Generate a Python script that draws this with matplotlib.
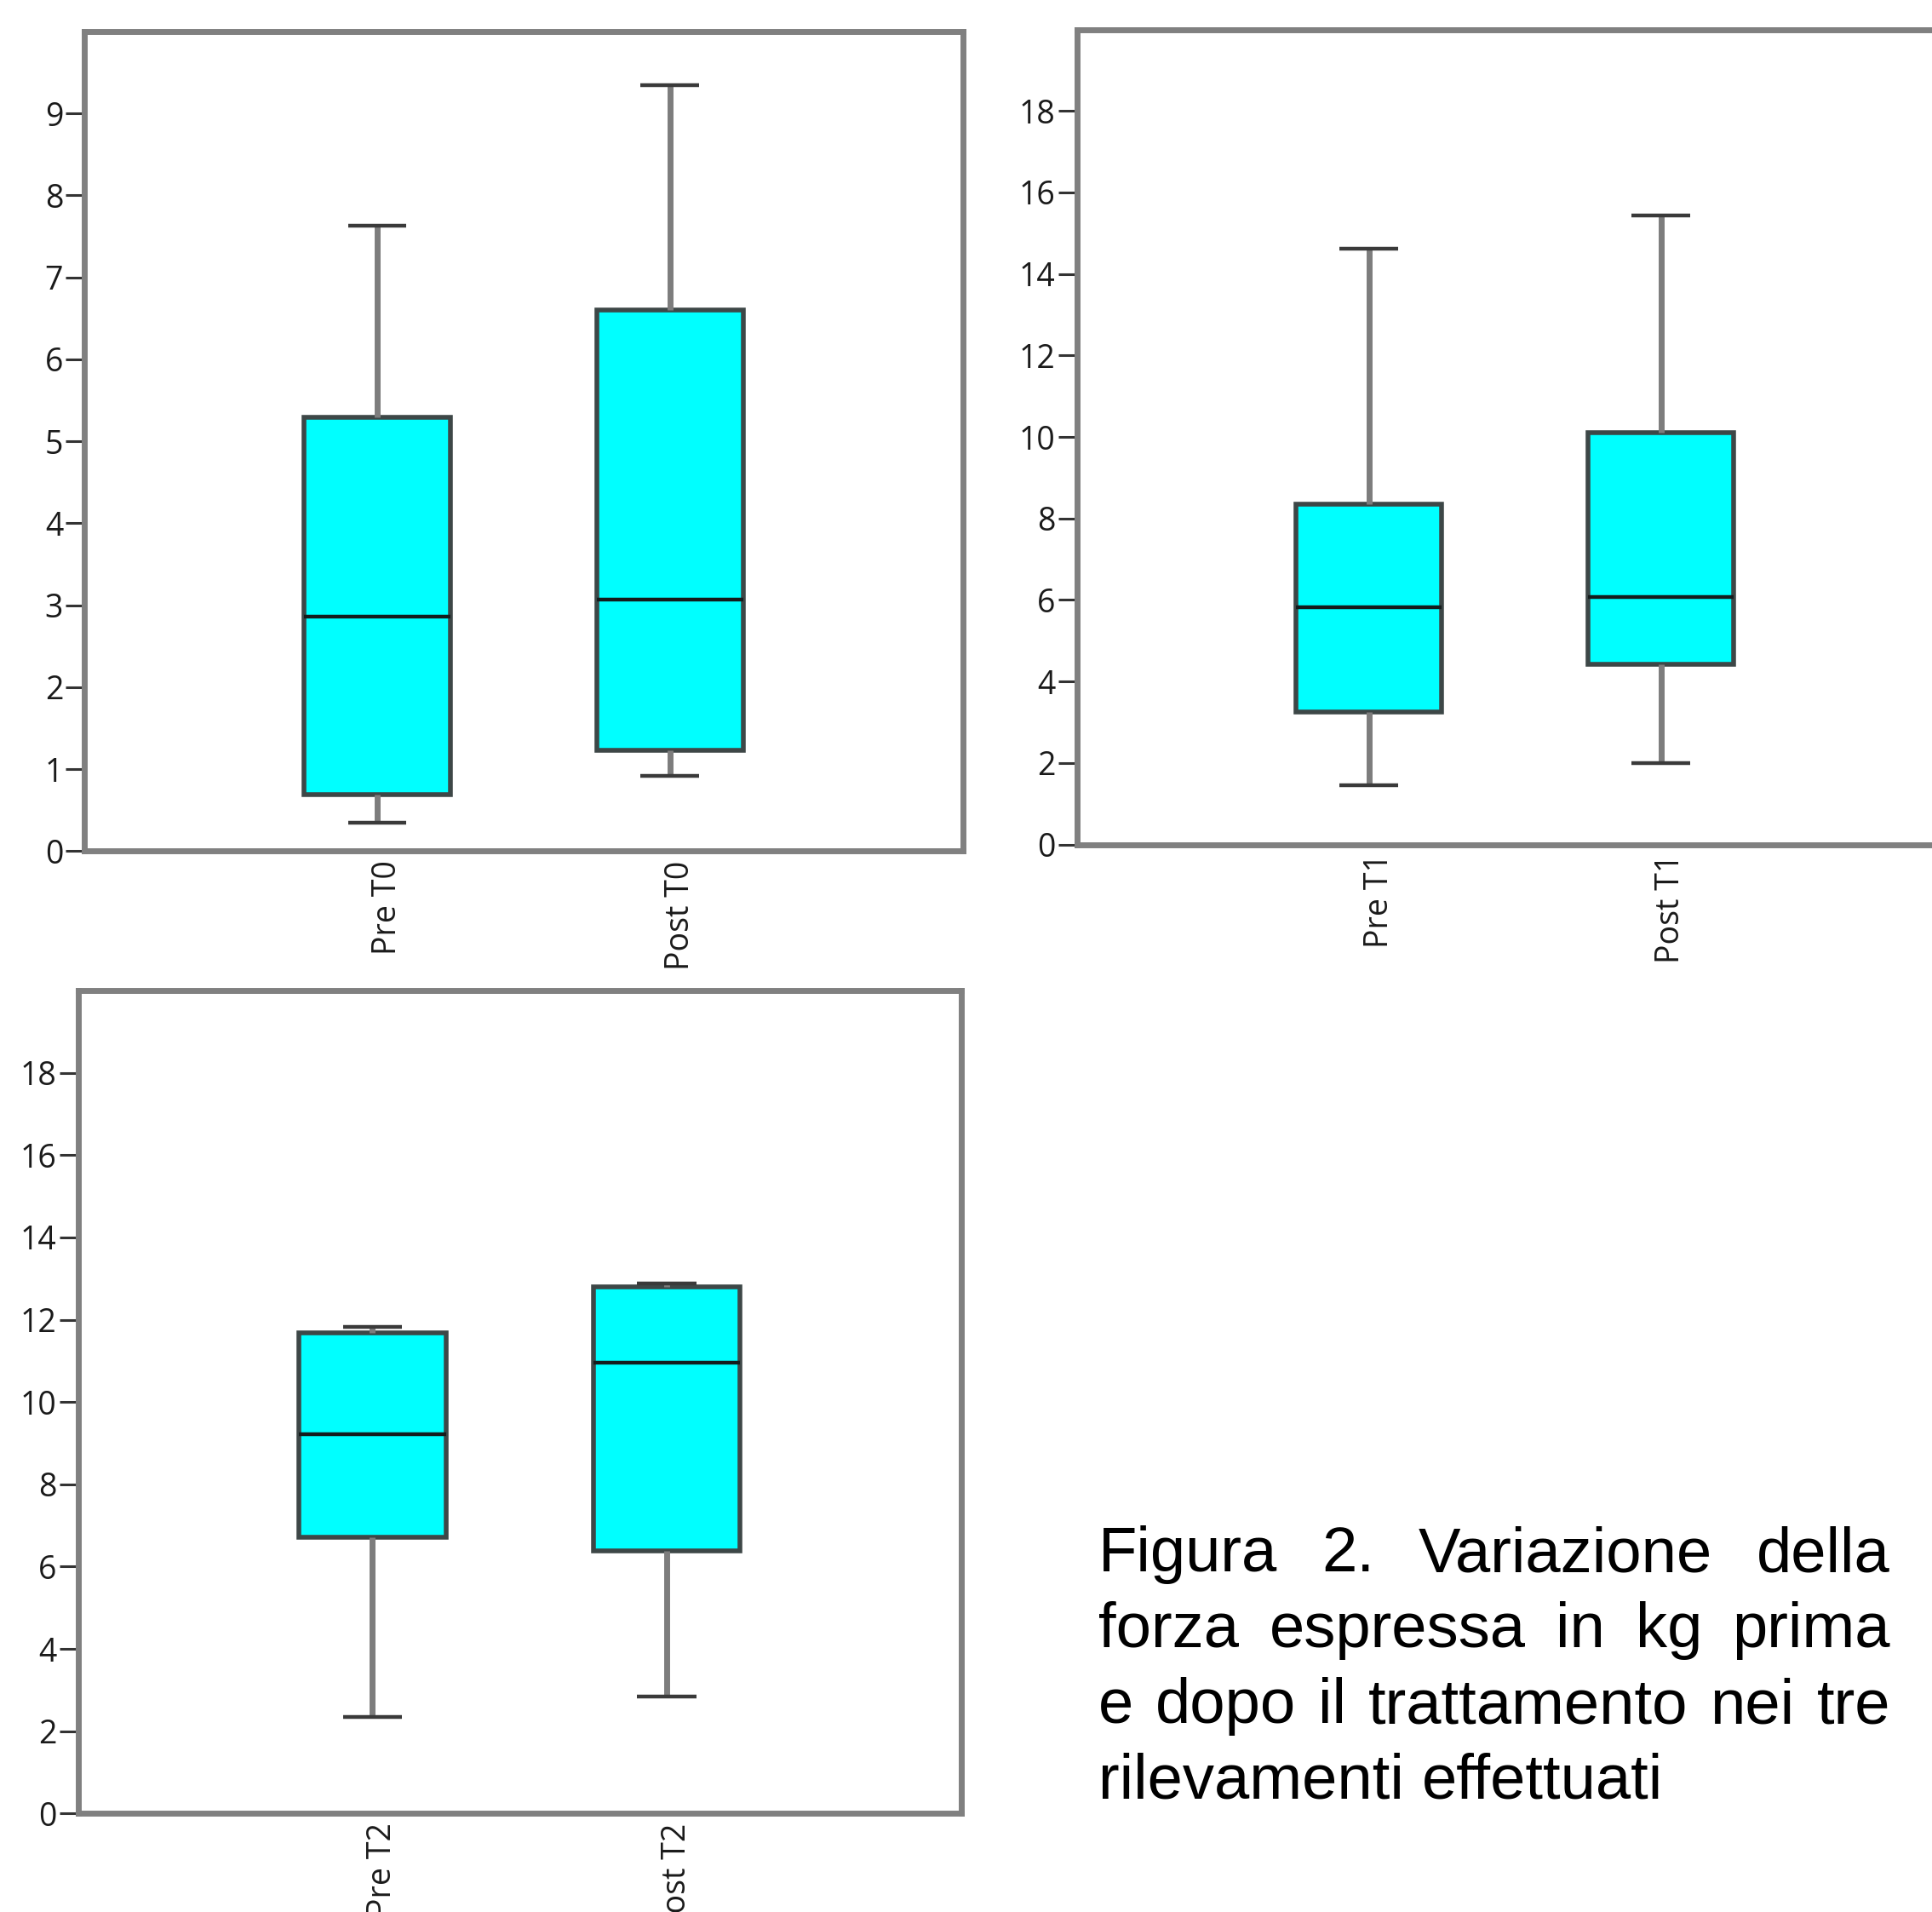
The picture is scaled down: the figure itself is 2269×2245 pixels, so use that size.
import matplotlib
matplotlib.use("Agg")
import matplotlib.pyplot as plt
from matplotlib.transforms import ScaledTranslation

# ---------------- data ----------------
cats_T0 = ["Pre T0", "Post T0"]
T0_whislo = [0.35, 0.92]
T0_q1 = [0.69, 1.23]
T0_med = [2.86, 3.07]
T0_q3 = [5.29, 6.60]
T0_whishi = [7.63, 9.35]

cats_T1 = ["Pre T1", "Post T1"]
T1_whislo = [1.45, 2.00]
T1_q1 = [3.24, 4.42]
T1_med = [5.81, 6.08]
T1_q3 = [8.35, 10.10]
T1_whishi = [14.61, 15.43]

cats_T2 = ["Pre T2", "Post T2"]
T2_whislo = [2.34, 2.85]
T2_q1 = [6.71, 6.38]
T2_med = [9.22, 10.96]
T2_q3 = [11.68, 12.79]
T2_whishi = [11.83, 12.88]

ticks_T0 = list(range(0, 10))
ticks_T12 = list(range(0, 20, 2))

caption_lines = [
    "Figura 2. Variazione della",
    "forza espressa in kg prima",
    "e dopo il trattamento nei tre",
    "rilevamenti effettuati",
]

# ---------------- figure ----------------
W, H = 2269, 2245
DPI = 100
fig = plt.figure(figsize=(W / DPI, H / DPI), dpi=DPI)
fig.patch.set_facecolor("white")


def axes_px(left, right, top, bottom):
    return fig.add_axes([left / W, 1 - bottom / H, (right - left) / W, (bottom - top) / H])


TICK_FONT = ["Open Sans", "DejaVu Sans"]


def draw_panel(ax, cats, whislo, q1, med, q3, whishi, ylim, yticks):
    stats = []
    for i, c in enumerate(cats):
        stats.append(dict(label=c, whislo=whislo[i], q1=q1[i], med=med[i],
                          q3=q3[i], whishi=whishi[i], fliers=[]))
    ax.bxp(stats, positions=[1, 2], widths=0.5, capwidths=0.2,
           showfliers=False, patch_artist=True,
           boxprops=dict(facecolor="#00FFFF", edgecolor="#3d4747", linewidth=4.0),
           medianprops=dict(color="#141c1c", linewidth=3.2),
           whiskerprops=dict(color="#7d7d7d", linewidth=5.0, solid_capstyle="butt"),
           capprops=dict(color="#3a3a3a", linewidth=3.2, solid_capstyle="butt"))
    ax.set_xlim(0, 3)
    ax.set_ylim(*ylim)
    ax.set_yticks(yticks)
    ax.set_yticklabels([str(t) for t in yticks], family=TICK_FONT, fontsize=27, color="#1a1a1a")
    ax.set_xticks([1, 2])
    ax.set_xticklabels(cats, rotation=90, family=TICK_FONT, fontsize=27, color="#1a1a1a",
                       va="top", ha="center")
    ax.tick_params(axis="y", length=15.5, width=2.2, color="#333333", pad=2.4,
                   right=False)
    ax.tick_params(axis="x", length=0, pad=8, top=False)
    offset = ScaledTranslation(12 / DPI, 0, fig.dpi_scale_trans)
    for lab in ax.get_xticklabels():
        lab.set_transform(lab.get_transform() + offset)
    for s in ax.spines.values():
        s.set_color("#808080")
        s.set_linewidth(5.0)
    ax.set_facecolor("white")


ax1 = axes_px(99, 1130.7, 37, 999.3)
draw_panel(ax1, cats_T0, T0_whislo, T0_q1, T0_med, T0_q3, T0_whishi, (0, 10), ticks_T0)

ax2 = axes_px(1264.5, 2293.5, 34.5, 991.5)
draw_panel(ax2, cats_T1, T1_whislo, T1_q1, T1_med, T1_q3, T1_whishi, (0, 20), ticks_T12)

ax3 = axes_px(91.7, 1128.7, 1163, 2129.3)
draw_panel(ax3, cats_T2, T2_whislo, T2_q1, T2_med, T2_q3, T2_whishi, (0, 20), ticks_T12)

# ---------------- caption (justified) ----------------
CAP_FONT = ["Liberation Sans", "DejaVu Sans"]
CAP_SIZE = 53.5
x_left, x_right = 1290, 2220
baselines = [1845, 1934, 2023, 2112]

line_words = []
for li, line in enumerate(caption_lines):
    words = line.split(" ")
    texts = []
    for w in words:
        t = fig.text(x_left / W, 1 - baselines[li] / H, w, family=CAP_FONT,
                     fontsize=CAP_SIZE, color="black", ha="left", va="baseline")
        texts.append(t)
    line_words.append(texts)

fig.canvas.draw()
renderer = fig.canvas.get_renderer()
for li, texts in enumerate(line_words):
    widths = [t.get_window_extent(renderer).width for t in texts]
    if li < len(line_words) - 1 and len(texts) > 1:
        gap = ((x_right - x_left) - sum(widths)) / (len(texts) - 1)
    else:
        gap = CAP_SIZE * DPI / 72 * 0.278
    x = x_left
    for t, w in zip(texts, widths):
        t.set_x(x / W)
        x += w + gap

fig.savefig("out.png", dpi=DPI, facecolor="white")
